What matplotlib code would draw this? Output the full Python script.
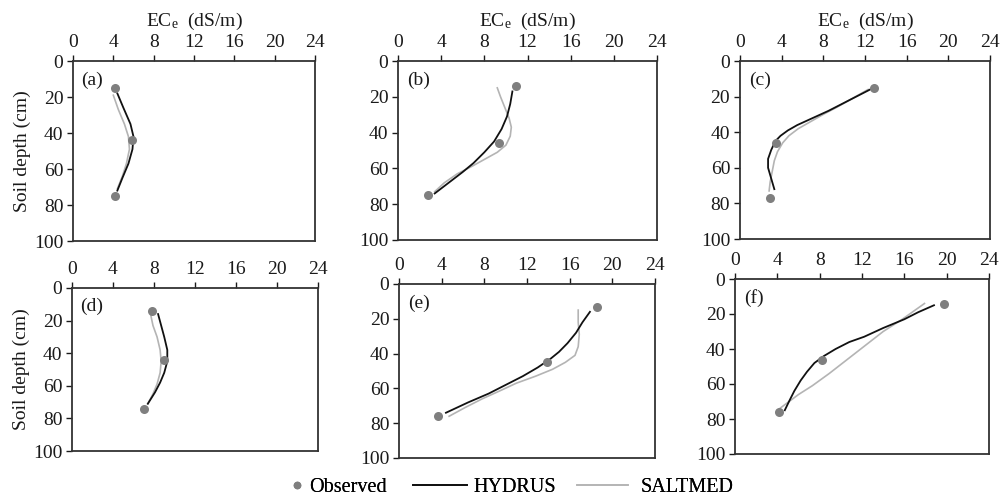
import matplotlib
matplotlib.use('Agg')
import matplotlib.pyplot as plt
from matplotlib.lines import Line2D

plt.rcParams['font.family'] = 'Liberation Serif'
plt.rcParams['mathtext.fontset'] = 'custom'
plt.rcParams['mathtext.rm'] = 'Liberation Serif'
plt.rcParams['mathtext.it'] = 'Liberation Serif:italic'

# 实测值 (EC, 深度)
obs_a = ([4.2, 5.9, 4.2], [15, 44, 75])
obs_b = ([10.9, 9.4, 2.8], [14, 46, 75])
obs_c = ([12.9, 3.5, 2.9], [15, 46, 77])
obs_d = ([7.8, 9.0, 7.0], [14, 44, 74])
obs_e = ([18.6, 13.9, 3.7], [13, 45, 76])
obs_f = ([19.7, 8.2, 4.2], [14, 46, 76])

# HYDRUS 模拟
hyd_a = ([4.4, 5.0, 5.7, 6.0, 5.9, 5.5, 4.9, 4.4],
         [18, 26, 35, 42, 49, 57, 65, 72])
hyd_b = ([10.6, 10.4, 10.1, 9.6, 8.9, 8.0, 7.0, 6.0, 4.7, 3.4],
         [17, 24, 31, 38, 45, 51, 57, 62, 68, 74])
hyd_c = ([12.5, 10.5, 8.5, 7.0, 5.5, 4.6, 3.9, 3.4, 3.0, 2.7, 2.7, 3.0, 3.3],
         [16, 22, 28, 32, 36, 39, 42, 45, 50, 55, 60, 66, 72])
hyd_d = ([8.4, 8.7, 9.0, 9.3, 9.3, 9.0, 8.6, 8.1, 7.4],
         [16, 23, 30, 38, 45, 52, 58, 64, 71])
hyd_e = ([17.9, 17.2, 16.6, 15.8, 15.0, 14.2, 13.0, 11.6, 10.0, 8.4, 6.5, 4.4],
         [16, 22, 28, 34, 39, 43, 48, 53, 58, 63, 68, 74])
hyd_f = ([18.8, 17.3, 16.0, 14.0, 12.2, 10.8, 9.5, 8.4, 7.5, 6.8, 6.2, 5.6, 5.1, 4.7],
         [15, 19, 23, 28, 33, 36, 40, 44, 48, 53, 58, 64, 70, 75])

# SALTMED 模拟
sal_a = ([4.0, 4.5, 5.1, 5.5, 5.6, 5.3, 4.9, 4.4],
         [19, 27, 35, 42, 49, 57, 64, 71])
sal_b = ([9.2, 9.5, 9.9, 10.3, 10.5, 10.4, 10.0, 9.2, 8.0, 6.8, 5.5, 4.3, 3.4],
         [15, 20, 26, 32, 37, 42, 47, 51, 55, 59, 63, 68, 73])
sal_c = ([12.3, 10.8, 9.3, 8.0, 6.8, 5.6, 4.7, 4.1, 3.6, 3.3, 3.1, 2.9, 2.8],
         [16, 21, 26, 30, 34, 38, 42, 46, 51, 56, 62, 68, 73])
sal_d = ([7.7, 7.9, 8.3, 8.6, 8.7, 8.6, 8.3, 7.9, 7.4],
         [17, 23, 30, 38, 45, 52, 59, 65, 71])
sal_e = ([16.8, 16.8, 16.9, 16.8, 16.5, 15.6, 14.4, 12.8, 11.0, 9.6, 7.8, 6.2, 4.7],
         [15, 22, 29, 36, 41, 45, 49, 53, 57, 61, 66, 71, 76])
sal_f = ([17.9, 15.8, 14.0, 12.3, 10.6, 8.9, 7.3, 6.0, 4.0],
         [14, 23, 30, 38, 46, 54, 61, 66, 75])

panels = ['(a)', '(b)', '(c)', '(d)', '(e)', '(f)']
obs_all = [obs_a, obs_b, obs_c, obs_d, obs_e, obs_f]
hyd_all = [hyd_a, hyd_b, hyd_c, hyd_d, hyd_e, hyd_f]
sal_all = [sal_a, sal_b, sal_c, sal_d, sal_e, sal_f]
x_ticks = [0, 4, 8, 12, 16, 20, 24]
y_ticks = [0, 20, 40, 60, 80, 100]
leg_labels = ['Observed', 'HYDRUS', 'SALTMED']

# 子图位置 [left, bottom, width, height]
boxes = [
    [0.0727, 0.518, 0.241, 0.360],
    [0.3964, 0.520, 0.258, 0.358],
    [0.7370, 0.522, 0.249, 0.356],
    [0.0717, 0.098, 0.245, 0.326],
    [0.3974, 0.084, 0.255, 0.348],
    [0.7321, 0.092, 0.253, 0.350],
]

c_obs = '#7f7f7f'
c_hyd = '#111111'
c_sal = '#b4b4b4'
fs = 14

fig = plt.figure(figsize=(10.04, 5.0), dpi=100)

for i in range(6):
    ax = fig.add_axes(boxes[i])
    ax.plot(sal_all[i][0], sal_all[i][1], color=c_sal, lw=1.2, zorder=2)
    ax.plot(hyd_all[i][0], hyd_all[i][1], color=c_hyd, lw=1.3, zorder=3)
    ax.plot(obs_all[i][0], obs_all[i][1], 'o', color=c_obs, ms=6.5,
            mec='none', zorder=4)
    ax.set_xlim(0, 24)
    ax.set_ylim(100, 0)
    ax.set_xticks(x_ticks)
    ax.set_yticks(y_ticks)
    ax.xaxis.tick_top()
    ax.tick_params(direction='out', length=4.5, width=1.0, labelsize=fs,
                   pad=2.5, colors='#1a1a1a')
    for s in ax.spines.values():
        s.set_linewidth(1.3)
        s.set_color('#333333')
    ax.text(0.035, 0.94, panels[i], transform=ax.transAxes, fontsize=fs,
            va='top', ha='left', color='#1a1a1a')
    if i < 3:
        ax.xaxis.set_label_position('top')
        ax.set_xlabel(r'EC$_\mathrm{e}$  (dS/m)', fontsize=fs, labelpad=6,
                      color='#1a1a1a')
    if i in (0, 3):
        ax.set_ylabel('Soil depth (cm)', fontsize=fs, labelpad=2,
                      color='#1a1a1a')

# 图例：三个条目分开放置
handles = [
    Line2D([], [], ls='none', marker='o', color=c_obs, ms=5.5, mec='none'),
    Line2D([], [], color=c_hyd, lw=1.3),
    Line2D([], [], color=c_sal, lw=1.2),
]
leg_x = [0.2898, 0.4114, 0.5747]
leg_hl = [0.6, 2.7, 2.55]
leg_pad = [0.3, 0.3, 0.6]
for h, lab, x0, hl, tp in zip(handles, leg_labels, leg_x, leg_hl, leg_pad):
    lg = fig.legend([h], [lab], loc='center left', bbox_to_anchor=(x0, 0.026),
                    frameon=False, fontsize=14.5, handlelength=hl,
                    handletextpad=tp, borderpad=0, borderaxespad=0)
    fig.add_artist(lg)

fig.savefig('out.png', dpi=100)
